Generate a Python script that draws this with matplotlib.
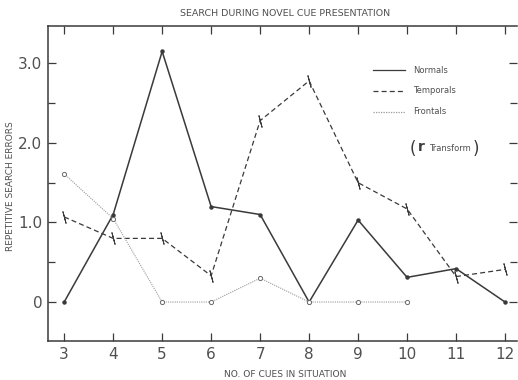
import matplotlib
matplotlib.use('Agg')
import matplotlib.pyplot as plt

cues = [3, 4, 5, 6, 7, 8, 9, 10, 11, 12]
normals = [0.0, 1.1, 3.15, 1.2, 1.1, 0.0, 1.03, 0.31, 0.42, 0.0]
temporals = [1.07, 0.8, 0.8, 0.33, 2.28, 2.78, 1.5, 1.17, 0.32, 0.41]
frontal_cues = [3, 4, 5, 6, 7, 8, 9, 10]
frontals = [1.61, 1.05, 0.0, 0.0, 0.3, 0.0, 0.0, 0.0]

ink = '#3a3a3a'
txt = '#505050'

fig = plt.figure(figsize=(5.18, 3.8), dpi=100)
ax = fig.add_axes([0.0927, 0.1026, 0.905, 0.829])

ax.plot(cues, normals, color=ink, lw=1.1, marker='o', ms=2.2, mfc=ink, mec=ink)
ax.plot(cues, temporals, color=ink, lw=0.9, ls=(0, (4, 2.5)), marker=(2, 2, 15), ms=9, mew=0.7)
ax.plot(frontal_cues, frontals, color='#9a9a9a', lw=0.8, ls=(0, (1, 1)),
        marker='o', ms=3, mfc='white', mec='#6a6a6a', mew=0.7)

ax.set_xlim(2.67, 12.24)
ax.set_ylim(-0.49, 3.47)
ax.set_xticks(cues)
ax.set_xticklabels([str(c) for c in cues])
ax.set_yticks([0, 1, 2, 3])
ax.set_yticklabels(['0', '1.0', '2.0', '3.0'])
ax.set_yticks([0.5, 1.5, 2.5], minor=True)

for s in ['left', 'bottom', 'top']:
    ax.spines[s].set_color(ink)
    ax.spines[s].set_linewidth(1.1)
ax.spines['right'].set_visible(False)

ax.tick_params(axis='both', which='both', direction='in', color=ink, width=0.9,
               top=True, right=True, labelcolor=txt)
ax.tick_params(axis='both', which='major', length=6, labelsize=11, pad=4)
ax.tick_params(axis='y', which='minor', length=5)

fig.text(0.55, 0.965, 'SEARCH DURING NOVEL CUE PRESENTATION', ha='center', va='center',
         fontsize=6.8, color=txt)
fig.text(0.55, 0.014, 'NO. OF CUES IN SITUATION', ha='center', va='center',
         fontsize=6.6, color=txt)
fig.text(0.02, 0.51, 'REPETITIVE SEARCH ERRORS', ha='center', va='center',
         rotation=90, fontsize=6.5, color=txt)

# legend drawn by hand
rows = [('Normals', '-', ink), ('Temporals', (0, (4, 2.5)), ink), ('Frontals', (0, (1, 1)), '#9a9a9a')]
ys = [0.86, 0.794, 0.727]
for (name, ls, c), y in zip(rows, ys):
    ax.plot([0.694, 0.762], [y, y], transform=ax.transAxes, color=c, ls=ls, lw=0.9)
    ax.text(0.779, y, name, transform=ax.transAxes, fontsize=6, color=txt, va='center')
ax.text(0.772, 0.61, '(', transform=ax.transAxes, fontsize=12, color=ink, va='center')
ax.text(0.79, 0.615, 'r', transform=ax.transAxes, fontsize=10, color=ink, va='center',
        fontweight='bold')
ax.text(0.812, 0.612, 'Transform', transform=ax.transAxes, fontsize=6, color=txt, va='center')
ax.text(0.905, 0.61, ')', transform=ax.transAxes, fontsize=12, color=ink, va='center')

fig.savefig('out.png', dpi=100)
